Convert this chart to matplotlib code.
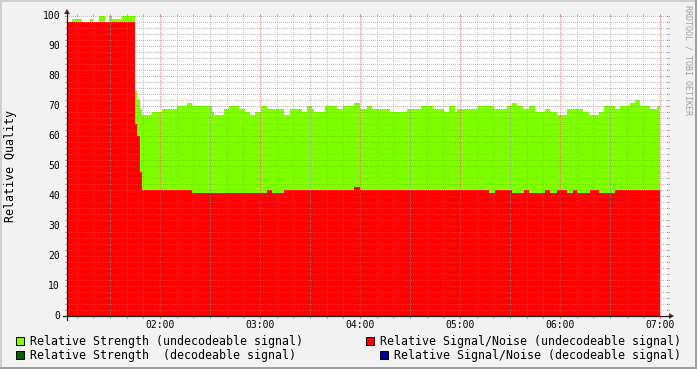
import numpy as np
import matplotlib
matplotlib.use("Agg")
import matplotlib.pyplot as plt
from matplotlib.patches import Rectangle, Polygon
from matplotlib.lines import Line2D

# ---------------- data (time in minutes after midnight) ----------------
strength_t = [64.2, 67.2, 73.2, 78.0, 79.8, 83.4, 87.0, 89.4, 91.2, 97.2,
              105.0, 106.2, 108.0, 109.2, 115.2, 121.2, 130.2, 136.2, 139.2, 151.2,
              152.4, 158.4, 161.4, 167.4, 171.0, 174.0, 177.0, 180.6, 184.2, 194.4,
              198.0, 205.2, 208.2, 211.2, 212.4, 219.0, 226.2, 229.8, 236.4, 240.0,
              244.2, 247.2, 258.0, 268.2, 276.6, 283.8, 290.4, 293.4, 297.0, 298.2,
              310.8, 320.4, 328.2, 331.2, 334.2, 337.8, 341.4, 345.0, 351.0, 354.0,
              358.2, 364.2, 373.8, 377.4, 383.4, 386.4, 393.0, 396.0, 402.0, 405.0,
              408.0, 414.0, 418.2]
strength_v = [98, 99, 98, 99, 98, 100, 98, 100, 99, 100,
              75, 72, 69, 67, 68, 69, 70, 71, 70, 68,
              67, 69, 70, 69, 68, 67, 68, 70, 69, 67,
              69, 68, 70, 69, 68, 70, 69, 70, 71, 69,
              70, 69, 68, 69, 70, 69, 68, 70, 68, 69,
              70, 69, 70, 71, 70, 69, 70, 68, 69, 68,
              67, 69, 68, 67, 68, 70, 69, 70, 71, 72,
              70, 69, 70]
snr_t = [64.2, 105.0, 106.2, 108.0, 109.2, 139.2, 184.2, 187.2, 194.4, 236.4,
         240.0, 317.4, 321.0, 331.2, 338.4, 341.4, 351.0, 354.0, 358.2, 364.2,
         367.8, 370.2, 378.0, 383.4, 393.0]
snr_v = [98, 64, 60, 48, 42, 41, 42, 41, 42, 43,
         42, 41, 42, 41, 42, 41, 42, 41, 42, 41,
         42, 41, 42, 41, 42]
data_end = 420.0
x_start, x_stop = 64.2, 424.2
y_min, y_max = 0, 100

hour_ticks = [120, 180, 240, 300, 360, 420]
hour_labels = ["02:00", "03:00", "04:00", "05:00", "06:00", "07:00"]
y_ticks = [0, 10, 20, 30, 40, 50, 60, 70, 80, 90, 100]

legend_labels = ["Relative Strength (undecodeable signal)",
                 "Relative Signal/Noise (undecodeable signal)",
                 "Relative Strength  (decodeable signal)",
                 "Relative Signal/Noise (decodeable signal)"]
legend_colors = ["#80FF00", "#FF0000", "#006400", "#000099"]

# ---------------- layout ----------------
W, H, DPI = 697, 369, 100
X0, X1, Y0, Y1 = 67, 667, 316, 16
MONO = "DejaVu Sans Mono"
BG = (0.95, 0.95, 0.95)
GRID = (0.56, 0.56, 0.56, 0.55)
MGRID = (0.87, 0.31, 0.31, 0.55)
ARROW = (0.50, 0.12, 0.12)
AXIS = (0.12, 0.12, 0.12)

fig = plt.figure(figsize=(W / DPI, H / DPI), dpi=DPI, facecolor=BG)


def fx(x):
    return x / W


def fy(y):
    return 1 - y / H


ax = fig.add_axes([fx(X0), fy(Y0), (X1 - X0) / W, (Y0 - Y1) / H])
ax.set_xlim(x_start, x_stop)
ax.set_ylim(y_min, y_max)
ax.set_facecolor("white")
for s in ax.spines.values():
    s.set_visible(False)
ax.set_xticks([])
ax.set_yticks([])

px_x = (x_stop - x_start) / (X1 - X0)
px_y = (y_max - y_min) / (Y0 - Y1)


def step_area(t, v, color):
    tt = np.append(np.asarray(t, float), data_end)
    vv = np.append(np.asarray(v, float), v[-1])
    ax.fill_between(tt, 0, vv, step="post", color=color, lw=0,
                    antialiased=False, zorder=2)


step_area(strength_t, strength_v, legend_colors[0])
step_area(snr_t, snr_v, legend_colors[1])

LW = 0.72
DASH = (0, (1, 2))
kw_d = dict(lw=LW, ls=DASH, clip_on=False, zorder=3, antialiased=False)
kw_s = dict(lw=LW, clip_on=False, zorder=3, antialiased=False)
# horizontal grid
for v in range(2, 101, 2):
    c = MGRID if v % 10 == 0 else GRID
    ax.plot([x_start - 2 * px_x, x_stop + 2 * px_x], [v, v], color=c, **kw_d)
    ax.plot([x_start - 2 * px_x, x_start], [v, v], color=c, **kw_s)
    ax.plot([x_stop, x_stop + 2 * px_x], [v, v], color=c, **kw_s)
# vertical grid
for m in range(70, 421, 10):
    c = MGRID if m % 60 == 0 else GRID
    ax.plot([m, m], [-2 * px_y, 100 + 2 * px_y], color=c, **kw_d)
    ax.plot([m, m], [-2 * px_y, 0], color=c, **kw_s)
    ax.plot([m, m], [100, 100 + 2 * px_y], color=c, **kw_s)


# axes lines with arrows (figure pixel coords)
def line_px(x0, y0, x1, y1, color, lw=LW):
    fig.add_artist(Line2D([fx(x0), fx(x1)], [fy(y0), fy(y1)], color=color, lw=lw,
                          transform=fig.transFigure))


line_px(X0 - 4, Y0, X1 + 4, Y0, AXIS, 0.9)
line_px(X0, Y0 + 4, X0, Y1 - 4, AXIS, 0.9)
fig.add_artist(Polygon([(fx(X1 + 2), fy(Y0 - 3)), (fx(X1 + 2), fy(Y0 + 3)), (fx(X1 + 7), fy(Y0))],
                       closed=True, color=ARROW, lw=0, transform=fig.transFigure))
fig.add_artist(Polygon([(fx(X0 - 3), fy(Y1 - 2)), (fx(X0 + 3), fy(Y1 - 2)), (fx(X0), fy(Y1 - 7))],
                       closed=True, color=ARROW, lw=0, transform=fig.transFigure))

# tick labels
for v in y_ticks:
    fig.text(fx(60), fy(Y0 - (v - y_min) / px_y), str(v), ha="right", va="center",
             fontsize=7, family=MONO, color="black")
for m, lab in zip(hour_ticks, hour_labels):
    fig.text(fx(X0 + (m - x_start) / px_x), fy(325), lab, ha="center", va="center",
             fontsize=7, family=MONO, color="black")

# y label
fig.text(fx(11), fy((Y0 + Y1) / 2), "Relative Quality", rotation=90, ha="center",
         va="center", fontsize=8.4, family=MONO, color="black")

# watermark
fig.text(fx(688), fy(5), "RRDTOOL / TOBI OETIKER", rotation=270, ha="center", va="top",
         fontsize=6, family=MONO, color="#A0A0A0")

# legend
leg_pos = [(30, 341), (380, 341), (30, 355), (394, 355)]
for (tx, ty), lab, col in zip(leg_pos, legend_labels, legend_colors):
    fig.add_artist(Rectangle((fx(tx - 14), fy(ty + 4)), 8 / W, 8 / H, facecolor=col,
                             edgecolor="black", lw=0.72, transform=fig.transFigure))
    fig.text(fx(tx), fy(ty), lab, ha="left", va="center", fontsize=8.4, family=MONO,
             color="black")

# 3D frame border
fig.add_artist(Rectangle((0, fy(2)), 1, 2 / H, facecolor=(0.81, 0.81, 0.81), lw=0,
                         transform=fig.transFigure))
fig.add_artist(Rectangle((0, 0), 2 / W, 1, facecolor=(0.81, 0.81, 0.81), lw=0,
                         transform=fig.transFigure))
fig.add_artist(Rectangle((0, 0), 1, 2 / H, facecolor=(0.62, 0.62, 0.62), lw=0,
                         transform=fig.transFigure))
fig.add_artist(Rectangle((fx(W - 2), 0), 2 / W, 1, facecolor=(0.62, 0.62, 0.62), lw=0,
                         transform=fig.transFigure))

fig.savefig("out.png", dpi=DPI, facecolor=BG)
